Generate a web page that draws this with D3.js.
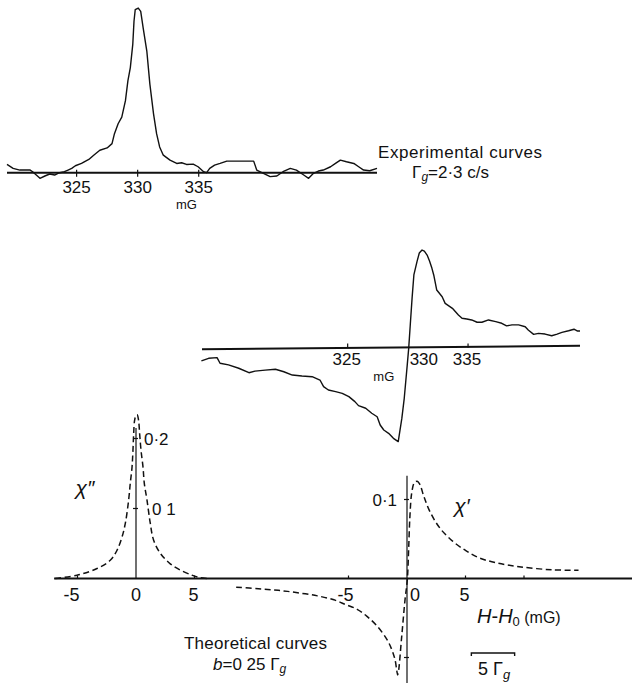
<!DOCTYPE html>
<html>
<head>
<meta charset="utf-8">
<script src="https://cdn.jsdelivr.net/npm/d3@7"></script>
<style>
  body { margin: 0; background: #fff; }
  svg text { font-family: "Liberation Sans", Arial, sans-serif; fill: #111; }
</style>
</head>
<body>
<div id="chart"></div>
<script>
// experimental absorption curve (field in mG, signal in arbitrary units, peak = 100)
const EXP_ABS_FIELD = [319.3, 319.8, 320.35, 321.2, 321.4, 321.7, 322.0, 322.4, 322.8, 323.2, 323.6, 324.0, 324.3, 324.6, 324.9, 325.4, 326.0, 326.4, 326.9, 327.5, 327.9, 328.1, 328.4, 328.7, 329.0, 329.2, 329.4, 329.6, 329.7, 329.8, 330.05, 330.25, 330.45, 330.75, 331.0, 331.3, 331.55, 331.8, 332.1, 332.65, 333.2, 333.6, 334.0, 334.55, 334.95, 335.4, 335.65, 335.9, 336.3, 336.75, 337.3, 338.4, 339.5, 339.75, 340.3, 340.85, 341.4, 341.9, 342.5, 343.0, 343.6, 344.0, 344.4, 344.8, 345.2, 345.8, 346.2, 346.6, 347.1, 347.7, 348.1, 348.5, 349.0, 349.6];
const EXP_ABS_SIGNAL = [5, 2.6, 1.6, 1.6, 0.6, -1.4, -3.4, -2, -0.8, -1.4, 0, 0.6, 1.6, 2.6, 4.2, 5.6, 8, 10.6, 13.6, 15, 17.6, 23.6, 29.6, 33.6, 43.6, 55.6, 63.6, 77.6, 91.6, 98.6, 99.6, 97.6, 87.6, 73.6, 53.6, 35.6, 23.6, 15.6, 10.6, 7.6, 5.6, 6, 5, 5.2, 3.6, 0.6, 0, 2.6, 4.6, 5.6, 7, 7, 7, 1.6, -0.4, -2.4, -2, 0.6, 2.6, 1.6, -1.4, -3.4, -0.4, 1, 1.6, 3.6, 5.6, 7.6, 6.6, 5.6, 3.6, 1.6, 1.2, 2.6];

// experimental dispersion curve
const EXP_DISP_FIELD = [312.85, 313.45, 314.15, 314.4, 315.1, 315.95, 316.8, 317.3, 318.15, 319.0, 319.7, 320.4, 321.2, 322.05, 322.7, 323.0, 323.4, 324.0, 324.55, 325.1, 325.6, 325.9, 326.5, 327.0, 327.45, 327.7, 328.0, 328.4, 328.8, 329.2, 329.5, 329.7, 329.95, 330.07, 330.2, 330.35, 330.5, 330.76, 330.95, 331.18, 331.37, 331.6, 331.8, 332.0, 332.15, 332.4, 332.85, 333.1, 333.7, 334.2, 334.5, 334.9, 335.3, 335.75, 336.15, 336.7, 337.3, 337.8, 338.2, 338.65, 339.2, 339.75, 340.0, 340.45, 340.85, 341.4, 341.95, 342.4, 342.8, 343.35, 343.8, 344.1, 344.3];
const EXP_DISP_SIGNAL = [-8.1, -6.5, -6.1, -9.5, -10.5, -12.5, -15.2, -14.2, -13.6, -13.1, -14.6, -16.6, -17.2, -17.6, -19.6, -23.6, -25.6, -26.6, -27.6, -29.6, -32.6, -35, -36.6, -39.6, -41.7, -46.7, -49.7, -51.7, -54.7, -56.7, -42.7, -30.6, -10.5, -0.5, 13.6, 29.6, 43.7, 51.7, 56.9, 58.7, 58.1, 55.7, 52.1, 47.7, 43.7, 34.6, 30.6, 26.6, 23.6, 19.6, 17.6, 17.2, 16.6, 15.2, 15.2, 16.6, 15.6, 14.6, 13, 13.6, 13.6, 12.5, 10.5, 7.9, 8.5, 8.1, 7.1, 8.1, 9.1, 10.1, 11, 9.9, 9.9];

const EXP_TICKS = [325, 330, 335];

// theoretical chi'' (absorption), H - H0 in mG
const CHI2_X = [-6.9, -5.04, -3.33, -2.2, -1.63, -1.2, -0.91, -0.63, -0.49, -0.34, -0.26, -0.2, -0.12, 0, 0.1, 0.22, 0.31, 0.43, 0.6, 0.71, 0.94, 1.22, 1.5, 2.08, 2.93, 3.79, 4.79, 5.5, 6.35];
const CHI2_Y = [0, 0.0047, 0.0143, 0.026, 0.040, 0.059, 0.079, 0.112, 0.136, 0.159, 0.183, 0.207, 0.226, 0.233, 0.234, 0.226, 0.207, 0.183, 0.159, 0.136, 0.112, 0.079, 0.055, 0.036, 0.021, 0.012, 0.0047, 0.001, 0];

// theoretical chi' (dispersion)
const CHI1_X = [-14.6, -12.7, -11.0, -9.35, -7.65, -6.25, -5.25, -4.26, -3.42, -2.57, -1.72, -1.3, -1.02, -0.87, -0.8, -0.74, -0.45, -0.17, 0.03, 0.14, 0.25, 0.4, 0.62, 0.87, 1.1, 1.44, 1.95, 2.8, 3.92, 5.06, 6.19, 7.6, 9.58, 12.4, 14.66];
const CHI1_Y = [-0.011, -0.013, -0.015, -0.018, -0.022, -0.027, -0.033, -0.039, -0.048, -0.060, -0.077, -0.090, -0.103, -0.117, -0.122, -0.119, -0.073, -0.027, -0.001, 0.037, 0.079, 0.108, 0.121, 0.123, 0.119, 0.104, 0.085, 0.064, 0.047, 0.035, 0.026, 0.020, 0.015, 0.011, 0.0105];

const CHI2_XTICKS = [-5, 0, 5];
const CHI2_YTICKS = [0.1, 0.2];
const CHI2_YLABELS = ['0 1', '0·2'];
const CHI1_XTICKS = [-5, 0, 5];
const CHI1_YTICKS = [0.1, -0.1];

const W = 632, H = 683;
const ink = '#111';

const svg = d3.select('#chart').append('svg')
  .attr('width', W).attr('height', H)
  .style('display', 'block');
svg.append('rect').attr('width', W).attr('height', H).attr('fill', '#fff');

const zip = (xs, ys) => xs.map((x, i) => [x, ys[i]]);

// ---------- panel 1: experimental absorption ----------
const x1 = d3.scaleLinear().domain([319.3, 349.6]).range([7, 377]);
const y1 = d3.scaleLinear().domain([0, 100]).range([172.7, 7.4]);
const p1 = svg.append('g');

p1.append('line')
  .attr('x1', x1(319.3)).attr('x2', x1(349.6))
  .attr('y1', y1(0)).attr('y2', y1(0))
  .attr('stroke', ink).attr('stroke-width', 2);

p1.selectAll('.t1').data(EXP_TICKS).join('line')
  .attr('x1', d => x1(d)).attr('x2', d => x1(d))
  .attr('y1', y1(0) - 3).attr('y2', y1(0) + 4)
  .attr('stroke', ink).attr('stroke-width', 1.2);

p1.selectAll('.l1').data(EXP_TICKS).join('text')
  .attr('x', d => x1(d)).attr('y', 193)
  .attr('text-anchor', 'middle').attr('font-size', 17)
  .text(d => d);

p1.append('text').attr('x', x1(334)).attr('y', 209)
  .attr('text-anchor', 'middle').attr('font-size', 13).text('mG');

p1.append('path')
  .datum(zip(EXP_ABS_FIELD, EXP_ABS_SIGNAL))
  .attr('fill', 'none').attr('stroke', ink).attr('stroke-width', 1.4)
  .attr('stroke-linejoin', 'round')
  .attr('d', d3.line().x(d => x1(d[0])).y(d => y1(d[1])));

// ---------- panel 2: experimental dispersion ----------
const x2 = d3.scaleLinear().domain([312.9, 344.3]).range([202, 580]);
const y2 = d3.scaleLinear().domain([0, 100]).range([347.5, 181.5]);
const p2 = svg.append('g');

p2.append('line')
  .attr('x1', x2(312.9)).attr('x2', x2(344.3))
  .attr('y1', y2(-1)).attr('y2', y2(1))
  .attr('stroke', ink).attr('stroke-width', 2);

p2.selectAll('.t2').data([325, 335]).join('line')
  .attr('x1', d => x2(d)).attr('x2', d => x2(d))
  .attr('y1', y2(0) - 4).attr('y2', y2(0))
  .attr('stroke', ink).attr('stroke-width', 1.2);

p2.selectAll('.l2').data(EXP_TICKS).join('text')
  .attr('x', d => x2(d) + (d === 330 ? 16 : -1)).attr('y', 365)
  .attr('text-anchor', 'middle').attr('font-size', 17)
  .text(d => d);

p2.append('text').attr('x', x2(328)).attr('y', 381)
  .attr('text-anchor', 'middle').attr('font-size', 13).text('mG');

p2.append('path')
  .datum(zip(EXP_DISP_FIELD, EXP_DISP_SIGNAL))
  .attr('fill', 'none').attr('stroke', ink).attr('stroke-width', 1.4)
  .attr('stroke-linejoin', 'round')
  .attr('d', d3.line().x(d => x2(d[0])).y(d => y2(d[1])));

// experimental caption
const cap1 = svg.append('g');
cap1.append('text').attr('x', 378).attr('y', 158).attr('font-size', 17)
  .attr('textLength', 164).attr('lengthAdjust', 'spacing')
  .text('Experimental curves');
const g1 = cap1.append('text').attr('x', 412).attr('y', 178).attr('font-size', 17);
g1.append('tspan').text('Γ');
g1.append('tspan').attr('dy', 3).attr('font-size', 12).attr('font-style', 'italic').text('g');
g1.append('tspan').attr('dy', -3).text('=2·3 c/s');

// ---------- panel 3: theoretical curves ----------
const xa = d3.scaleLinear().domain([0, 5]).range([136, 194.5]);
const xb = d3.scaleLinear().domain([0, 5]).range([407, 465.5]);
const ya = d3.scaleLinear().domain([0, 0.2]).range([578.5, 438.5]);
const yb = d3.scaleLinear().domain([0, 0.1]).range([578.5, 499.5]);
const p3 = svg.append('g');

// shared field axis
p3.append('line')
  .attr('x1', xa(-7)).attr('x2', xb(19.4))
  .attr('y1', ya(0)).attr('y2', ya(0))
  .attr('stroke', ink).attr('stroke-width', 2);

// vertical axes
p3.append('line')
  .attr('x1', xa(0)).attr('x2', xa(0))
  .attr('y1', ya(0)).attr('y2', ya(0.215))
  .attr('stroke', ink).attr('stroke-width', 1.2);
p3.append('line')
  .attr('x1', xb(0)).attr('x2', xb(0))
  .attr('y1', yb(0.13)).attr('y2', yb(-0.14))
  .attr('stroke', ink).attr('stroke-width', 1.2);

// x ticks
p3.selectAll('.xta').data(CHI2_XTICKS.filter(d => d !== 0)).join('line')
  .attr('x1', d => xa(d)).attr('x2', d => xa(d))
  .attr('y1', ya(0) - 3).attr('y2', ya(0))
  .attr('stroke', ink).attr('stroke-width', 1.2);
p3.selectAll('.xtb').data([-5, 5, 10]).join('line')
  .attr('x1', d => xb(d)).attr('x2', d => xb(d))
  .attr('y1', yb(0) - 3).attr('y2', yb(0))
  .attr('stroke', ink).attr('stroke-width', 1.2);

p3.selectAll('.xla').data(CHI2_XTICKS).join('text')
  .attr('x', d => d < 0 ? xa(d) + 2 : xa(d) - (d > 0 ? 1 : 0))
  .attr('y', 601)
  .attr('text-anchor', d => d < 0 ? 'end' : 'middle')
  .attr('font-size', 18)
  .text(d => d < 0 ? '-' + Math.abs(d) : d);
p3.selectAll('.xlb').data(CHI1_XTICKS).join('text')
  .attr('x', d => d < 0 ? xb(d) + 5 : (d === 0 ? xb(d) + 8 : xb(d) - 1))
  .attr('y', 601)
  .attr('text-anchor', d => d < 0 ? 'end' : 'middle')
  .attr('font-size', 18)
  .text(d => d < 0 ? '-' + Math.abs(d) : d);

// y ticks
p3.selectAll('.yta').data(CHI2_YTICKS).join('line')
  .attr('x1', xa(0) - 3).attr('x2', xa(0) + 2)
  .attr('y1', d => ya(d)).attr('y2', d => ya(d))
  .attr('stroke', ink).attr('stroke-width', 1.2);
p3.selectAll('.yla').data(CHI2_YTICKS).join('text')
  .attr('x', (d, i) => xa(0) + (i === 0 ? 16 : 8))
  .attr('y', d => ya(d) + 6)
  .attr('font-size', 17)
  .text((d, i) => CHI2_YLABELS[i]);

p3.selectAll('.ytb').data(CHI1_YTICKS).join('line')
  .attr('x1', xb(0) - 3).attr('x2', xb(0) + 2)
  .attr('y1', d => yb(d)).attr('y2', d => yb(d))
  .attr('stroke', ink).attr('stroke-width', 1.2);
p3.append('text')
  .attr('x', xb(0) - 10).attr('y', yb(0.1) + 6)
  .attr('text-anchor', 'end').attr('font-size', 17)
  .text('0·1');

// dashed theory curves
const dash = '6,3.5';
p3.append('path')
  .datum(zip(CHI2_X, CHI2_Y))
  .attr('fill', 'none').attr('stroke', ink).attr('stroke-width', 1.5)
  .attr('stroke-dasharray', dash)
  .attr('d', d3.line().curve(d3.curveCatmullRom).x(d => xa(d[0])).y(d => ya(d[1])));
p3.append('path')
  .datum(zip(CHI1_X, CHI1_Y))
  .attr('fill', 'none').attr('stroke', ink).attr('stroke-width', 1.5)
  .attr('stroke-dasharray', dash)
  .attr('d', d3.line().curve(d3.curveCatmullRom).x(d => xb(d[0])).y(d => yb(d[1])));

// curve names
p3.append('text').attr('x', 85).attr('y', 495)
  .attr('text-anchor', 'middle').attr('font-size', 21)
  .attr('font-family', '"Liberation Serif", serif').attr('font-style', 'italic')
  .text('χ″');
p3.append('text').attr('x', 462).attr('y', 513)
  .attr('text-anchor', 'middle').attr('font-size', 21)
  .attr('font-family', '"Liberation Serif", serif').attr('font-style', 'italic')
  .text('χ′');

// axis title
const ht = p3.append('text').attr('x', 477).attr('y', 623).attr('font-size', 20);
ht.append('tspan').attr('font-style', 'italic').text('H');
ht.append('tspan').text('-');
ht.append('tspan').attr('font-style', 'italic').text('H');
ht.append('tspan').attr('dy', 3).attr('font-size', 13).text('0');
ht.append('tspan').attr('dy', -3).attr('font-size', 16).text(' (mG)');

// scale bar
p3.append('path')
  .attr('d', `M${xb(5.5)},${656} V${653} H${xb(9.2)} V${656}`)
  .attr('fill', 'none').attr('stroke', ink).attr('stroke-width', 1.4);
const sb = p3.append('text').attr('x', 478).attr('y', 675).attr('font-size', 18);
sb.append('tspan').text('5 Γ');
sb.append('tspan').attr('dy', 4).attr('font-size', 13).attr('font-style', 'italic').text('g');

// theoretical caption
p3.append('text').attr('x', 184).attr('y', 649).attr('font-size', 17)
  .attr('textLength', 143).attr('lengthAdjust', 'spacing')
  .text('Theoretical curves');
const bt = p3.append('text').attr('x', 213).attr('y', 670).attr('font-size', 17);
bt.append('tspan').attr('font-style', 'italic').text('b');
bt.append('tspan').text('=0 25 Γ');
bt.append('tspan').attr('dy', 3).attr('font-size', 12).attr('font-style', 'italic').text('g');
</script>
</body>
</html>
